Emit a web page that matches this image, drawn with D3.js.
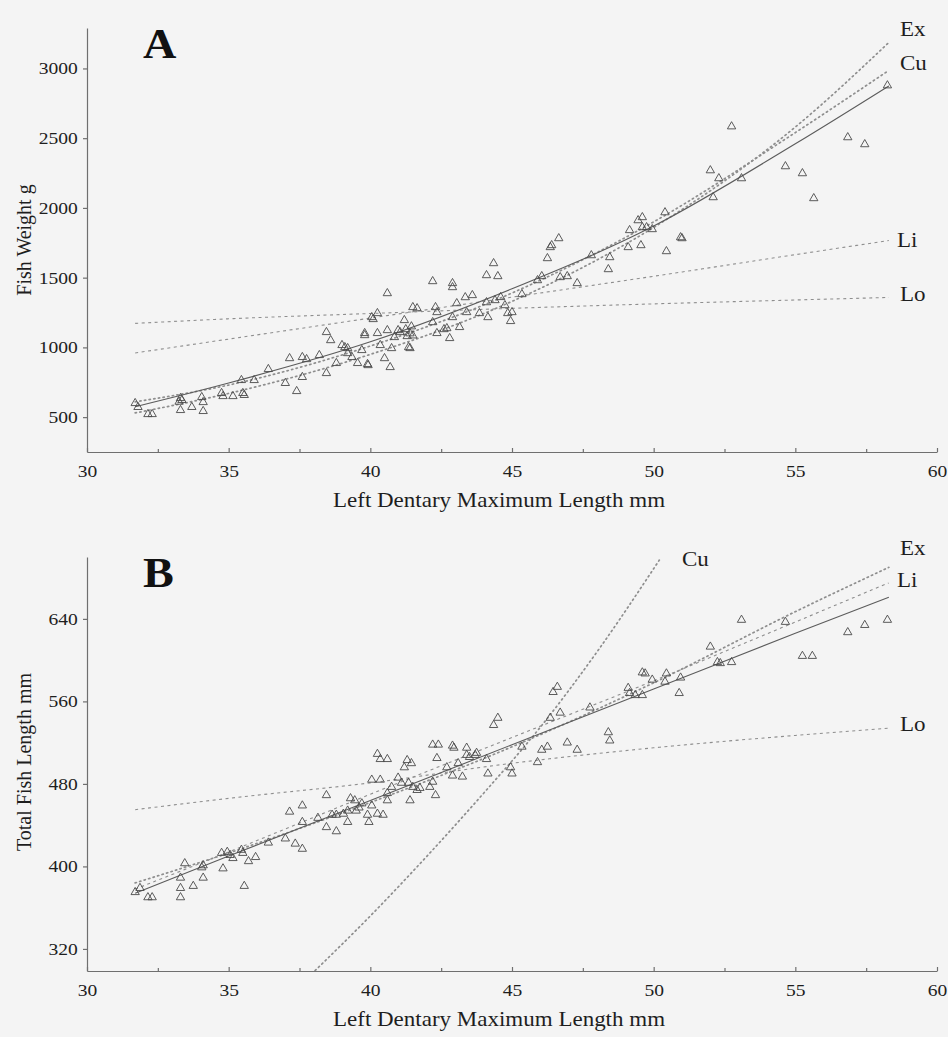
<!DOCTYPE html>
<html lang="en">
<head>
<meta charset="UTF-8">
<title>Dentary length regressions</title>
<script src="https://d3js.org/d3.v7.min.js"></script>
<style>
  body { margin: 0; background: #f4f4f4; }
  svg { display: block; }
  svg text { font-family: "Liberation Serif", "Times New Roman", serif; }
</style>
</head>
<body>
<div id="chart"></div>
<script>
// tick values
const xTicks = [30, 35, 40, 45, 50, 55, 60];
const weightTicks = [500, 1000, 1500, 2000, 2500, 3000];
const lengthTicks = [320, 400, 480, 560, 640];

// panel A: dentary length (mm) vs fish weight (g)
const weightPoints = [
  [31.7,600],[31.8,572],[32.15,521],[32.3,521],[33.3,636],[33.35,622],[33.25,610],[33.3,550],[33.7,572],
  [34.05,643],[34.1,607],[34.1,543],[34.75,672],[34.8,650],[35.15,650],[35.45,765],[35.5,672],[35.55,658],
  [35.9,765],[36.4,844],[37.0,744],[37.15,922],[37.4,686],[37.6,930],[37.6,787],[37.75,915],[38.2,944],
  [38.45,1109],[38.45,815],[38.6,1051],[38.8,887],[39.0,1016],[39.1,1001],[39.2,994],[39.2,958],[39.35,930],
  [39.55,887],[39.9,880],[39.92,872],[39.7,980],[39.8,1102],[39.8,1087],[40.05,1216],[40.1,1202],[40.25,1245],
  [40.25,1102],[40.35,1016],[40.5,922],[40.6,1388],[40.6,1123],[40.7,858],[40.75,994],[40.85,1073],[40.98,1123],
  [41.05,1109],[41.2,1195],[41.25,1130],[41.3,1080],[41.4,1100],[41.45,1150],[41.5,1085],[41.35,1001],[41.4,994],
  [41.5,1288],[41.65,1280],[42.2,1474],[42.3,1288],[42.35,1252],[42.2,1180],[42.35,1102],[42.6,1130],[42.7,1137],
  [42.8,1066],[42.9,1460],[42.9,1431],[42.9,1216],[43.05,1316],[43.15,1145],[43.35,1359],[43.6,1374],[43.4,1252],
  [43.85,1245],[44.1,1517],[44.35,1603],[44.5,1510],[44.15,1216],[44.1,1323],[44.4,1338],[44.6,1360],[44.75,1302],
  [44.85,1245],[44.95,1188],[45.0,1252],[45.35,1381],[45.9,1481],[46.05,1510],[46.25,1639],[46.35,1718],[46.4,1732],
  [46.65,1782],[46.7,1503],[46.95,1510],[47.3,1460],[47.8,1660],[48.45,1646],[48.4,1560],[49.1,1718],[49.15,1840],
  [49.45,1911],[49.6,1933],[49.55,1732],[49.6,1861],[49.75,1861],[49.95,1847],[50.4,1968],[50.45,1689],[50.95,1789],
  [51.0,1782],[52.0,2269],[52.1,2076],[52.3,2212],[52.75,2584],[53.1,2212],[54.65,2298],[55.25,2248],[55.65,2069],
  [56.85,2506],[57.45,2456],[58.25,2878]
];
const weightSolid = [[31.7,575],[35,745],[40,1040],[45,1420],[50,1870],[55,2460],[58.3,2875]];
const weightEx = [[31.7,530],[35,670],[40,950],[45,1330],[50,1860],[55,2580],[58.3,3186]];
const weightCu = [[31.7,610],[35,730],[40,1010],[45,1390],[50,1900],[55,2540],[58.3,2986]];
const weightLi = [[31.7,960],[40,1210],[45,1360],[50,1510],[55,1665],[58.3,1766]];
const weightLo = [[31.7,1172],[35,1205],[40,1243],[45,1280],[50,1312],[55,1340],[58.3,1358]];

// panel B: dentary length (mm) vs total fish length (mm)
const lengthPoints = [
  [31.7,375],[31.87,379],[32.15,370],[32.3,370],[33.3,389],[33.3,379],[33.3,370],[33.45,403],[33.75,381],
  [34.05,399],[34.1,389],[34.1,401],[34.75,413],[34.95,414],[35.05,411],[34.8,398],[35.15,408],[35.45,416],
  [35.5,413],[35.55,381],[35.7,405],[35.95,409],[36.4,423],[37.0,427],[37.15,453],[37.35,422],[37.6,417],
  [37.6,459],[37.6,443],[38.15,447],[38.45,469],[38.45,438],[38.65,450],[38.8,450],[38.8,434],[39.05,451],
  [39.2,454],[39.3,466],[39.45,464],[39.2,443],[39.5,454],[39.6,457],[39.7,461],[39.9,450],[39.95,443],
  [40.05,459],[40.25,451],[40.45,450],[40.25,509],[40.35,504],[40.6,504],[40.05,484],[40.35,484],[40.6,471],
  [40.6,464],[40.75,477],[40.98,486],[41.1,481],[41.2,496],[41.3,503],[41.45,500],[41.35,481],[41.5,477],
  [41.65,474],[41.75,476],[41.4,464],[42.1,477],[42.2,482],[42.2,518],[42.4,518],[42.35,505],[42.3,469],
  [42.9,517],[42.95,515],[42.7,496],[42.9,488],[43.25,487],[43.1,500],[43.4,515],[43.5,506],[43.75,510],
  [43.4,508],[43.7,508],[44.35,537],[44.5,544],[44.1,504],[44.15,490],[44.95,496],[45.0,490],[45.35,516],
  [45.9,501],[46.05,513],[46.25,516],[46.35,544],[46.45,569],[46.6,574],[46.7,549],[46.95,520],[47.3,513],
  [47.75,554],[48.4,530],[48.45,522],[49.1,573],[49.15,568],[49.35,566],[49.6,566],[49.6,588],[49.7,587],
  [49.95,581],[50.4,579],[50.45,587],[50.95,583],[50.9,568],[52.0,613],[52.25,598],[52.35,597],[52.75,598],
  [53.1,639],[54.65,637],[55.25,604],[55.6,604],[56.85,627],[57.45,634],[58.25,639]
];
const lengthSolid = [[31.7,374],[35,410],[40,464],[45,518],[50,572],[55,626],[58.3,661]];
const lengthEx = [[31.7,384],[35,413],[40,462],[45,516],[50,578],[55,647],[58.3,690]];
const lengthLi = [[31.7,378],[35,414],[40,470],[45,525],[50,580],[55,637],[58.3,675]];
const lengthLo = [[31.7,455],[35,466],[40,481],[45,500],[50,515],[55,527],[58.3,534]];
const lengthCu = [[38.05,299],[40,352],[42,410],[44,471],[46,535],[48,608],[50.2,697]];

const W = 948, H = 1037;
const left = 87, right = 937;
const SX = 1.15; // horizontal stretch of the printed lettering

const svg = d3.select('#chart').append('svg')
    .attr('width', W).attr('height', H);

const x = d3.scaleLinear().domain([30, 60]).range([left, right]);

const dotted = '1.3 3.4', dashed = '3 3.5';

const panels = [
  {
    letter: 'A', top: 28, bottom: 452, yDomain: [250, 3290], yTicks: weightTicks,
    yTitle: 'Fish Weight g', yTitleY: 240, points: weightPoints,
    fits: [
      {data: weightLo, dash: dashed, label: 'Lo', lx: 900, ly: 301},
      {data: weightLi, dash: dashed, label: 'Li', lx: 897, ly: 247},
      {data: weightCu, dash: dotted, label: 'Cu', lx: 900, ly: 70},
      {data: weightEx, dash: dotted, label: 'Ex', lx: 900, ly: 36},
      {data: weightSolid, dash: null}
    ]
  },
  {
    letter: 'B', top: 557, bottom: 971, yDomain: [298.6, 700], yTicks: lengthTicks,
    yTitle: 'Total Fish Length mm', yTitleY: 762, points: lengthPoints,
    fits: [
      {data: lengthLo, dash: dashed, label: 'Lo', lx: 900, ly: 731},
      {data: lengthCu, dash: dotted, label: 'Cu', lx: 682, ly: 566},
      {data: lengthLi, dash: dashed, label: 'Li', lx: 897, ly: 587},
      {data: lengthEx, dash: dotted, label: 'Ex', lx: 900, ly: 555},
      {data: lengthSolid, dash: null}
    ]
  }
];

panels.forEach((p, i) => {
  const y = d3.scaleLinear().domain(p.yDomain).range([p.bottom, p.top]);
  const g = svg.append('g');

  g.append('clipPath').attr('id', 'clip' + i)
    .append('rect')
      .attr('x', left).attr('y', p.top)
      .attr('width', right - left).attr('height', p.bottom - p.top);

  // x axis, ticks pointing up
  g.append('g')
      .attr('transform', `translate(0, ${p.bottom})`)
      .call(d3.axisBottom(x).tickValues(xTicks).tickSize(-4).tickSizeOuter(0).tickPadding(13).tickFormat(d3.format('d')));
  // minor ticks
  g.append('g')
      .attr('transform', `translate(0, ${p.bottom})`)
      .call(d3.axisBottom(x).tickValues(d3.range(32.5, 60, 5)).tickSize(-3).tickSizeOuter(0).tickFormat(''))
      .call(s => s.select('.domain').remove());

  // y axis
  g.append('g')
      .attr('transform', `translate(${left}, 0)`)
      .call(d3.axisLeft(y).tickValues(p.yTicks).tickSize(4).tickSizeOuter(0).tickPadding(4).tickFormat(d3.format('d')));

  g.selectAll('.domain, .tick line').attr('stroke', '#6f6f6f').attr('stroke-width', 1.2);
  g.selectAll('.tick text')
      .attr('fill', '#1e1e1e')
      .style('font-family', '"Liberation Serif", serif')
      .style('font-size', '17px')
      .attr('transform', `scale(${SX},1)`);

  // fitted curves
  const line = d3.line().x(d => x(d[0])).y(d => y(d[1])).curve(d3.curveMonotoneX);
  g.append('g').attr('clip-path', `url(#clip${i})`)
    .selectAll('path')
    .data(p.fits)
    .join('path')
      .attr('d', d => line(d.data))
      .attr('fill', 'none')
      .attr('stroke', d => d.dash ? '#8e8e8e' : '#5c5c5c')
      .attr('stroke-width', d => d.dash === dotted ? 1.7 : 1.1)
      .attr('stroke-dasharray', d => d.dash)
      .attr('stroke-linecap', d => d.dash === dotted ? 'round' : 'butt');

  // observations
  const tri = d3.symbol().type(d3.symbolTriangle).size(30);
  g.append('g')
    .selectAll('path')
    .data(p.points)
    .join('path')
      .attr('d', tri)
      .attr('transform', d => `translate(${x(d[0])}, ${y(d[1])})`)
      .attr('fill', 'none')
      .attr('stroke', '#4a4a4a')
      .attr('stroke-width', 0.9);

  // curve labels
  g.selectAll('text.lab')
    .data(p.fits.filter(f => f.label))
    .join('text')
      .attr('class', 'lab')
      .attr('transform', d => `translate(${d.lx}, ${d.ly}) scale(${SX},1)`)
      .style('font-size', '20px')
      .attr('fill', '#1e1e1e')
      .text(d => d.label);

  // panel letter
  g.append('text')
      .attr('transform', `translate(143, ${p.top + 30}) scale(1.1,1)`)
      .style('font-size', '42px').style('font-weight', 'bold')
      .attr('fill', '#111')
      .text(p.letter);

  // axis titles
  g.append('text')
      .attr('transform', `translate(${(left + right) / 2 - 13}, ${p.bottom + 55}) scale(${SX},1)`)
      .attr('text-anchor', 'middle')
      .style('font-size', '20px').attr('fill', '#1e1e1e')
      .text('Left Dentary Maximum Length mm');

  g.append('text')
      .attr('transform', `translate(31, ${p.yTitleY}) rotate(-90)`)
      .attr('text-anchor', 'middle')
      .style('font-size', '20px').attr('fill', '#1e1e1e')
      .text(p.yTitle);
});
</script>
</body>
</html>
